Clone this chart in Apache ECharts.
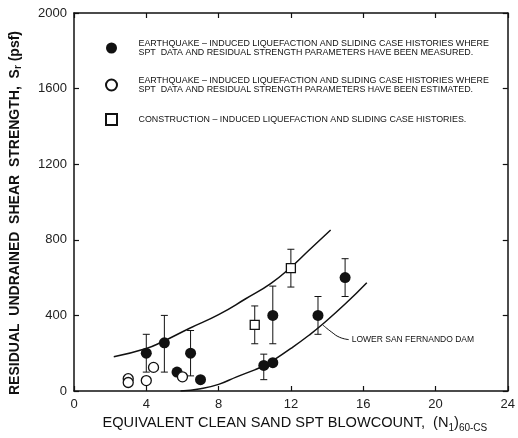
<!DOCTYPE html>
<html>
<head>
<meta charset="utf-8">
<script src="https://cdn.jsdelivr.net/npm/echarts@6/dist/echarts.min.js"></script>
<style>
  html, body { margin: 0; padding: 0; background: #fff; }
  #chart { width: 518px; height: 438px; }
</style>
</head>
<body>
<div id="chart"></div>
<script>
// tick values
var xTicks = [0, 4, 8, 12, 16, 20, 24];
var yTicks = [0, 400, 800, 1200, 1600, 2000];

// case histories: [blowcount, Sr]
var measured = [[4, 200], [5, 255], [5.7, 100], [6.45, 200], [7, 60], [10.5, 135], [11, 150], [11, 400], [13.5, 400], [15, 600]];
var estimated = [[3, 65], [3, 45], [4, 55], [4.4, 125], [6, 75]];
var construction = [[10, 350], [12, 650]];

// error bars: [blowcount, low, high]
var measuredRange = [[4, 100, 300], [5, 100, 400], [6.45, 80, 320], [10.5, 60, 195], [11, 250, 555], [13.5, 300, 500], [15, 500, 700]];
var constructionRange = [[10, 250, 450], [12, 550, 750]];

// bounding curves
var upperBound = [[2.2, 181], [4, 225], [4.9, 261], [6.4, 332], [8, 404], [9.5, 488], [10.9, 570], [12, 655], [13, 745], [14.2, 852]];
var lowerBound = [[5.9, 0], [7, 12], [8, 35], [9, 75], [10, 112], [10.6, 137], [11, 160], [12, 225], [13, 295], [13.7, 349], [15, 460], [16.2, 573]];
var leader = [[13.77, 349], [14.25, 312], [14.7, 284], [15.2, 272]];

var legendNames = [
  'EARTHQUAKE \u2013 INDUCED LIQUEFACTION AND SLIDING CASE HISTORIES WHERE\nSPT  DATA AND RESIDUAL STRENGTH PARAMETERS HAVE BEEN MEASURED.',
  'EARTHQUAKE \u2013 INDUCED LIQUEFACTION AND SLIDING CASE HISTORIES WHERE\nSPT  DATA AND RESIDUAL STRENGTH PARAMETERS HAVE BEEN ESTIMATED.',
  'CONSTRUCTION \u2013 INDUCED LIQUEFACTION AND SLIDING CASE HISTORIES.'
];

var ink = '#111';
var font = 'Liberation Sans';
var square = 'path://M0,0H10V10H0Z';

function errorBar(params, api) {
  var x = api.value(0);
  var lo = api.coord([x, api.value(1)]);
  var hi = api.coord([x, api.value(2)]);
  var cap = 3.5;
  var st = { stroke: ink, lineWidth: 1 };
  return {
    type: 'group',
    children: [
      { type: 'line', shape: { x1: lo[0], y1: lo[1], x2: hi[0], y2: hi[1] }, style: st },
      { type: 'line', shape: { x1: lo[0] - cap, y1: lo[1], x2: lo[0] + cap, y2: lo[1] }, style: st },
      { type: 'line', shape: { x1: hi[0] - cap, y1: hi[1], x2: hi[0] + cap, y2: hi[1] }, style: st }
    ]
  };
}

// one frame axis (fresh objects each time)
function frameAxis(pos, lo, hi, step, ticks, showLabel) {
  return {
    type: 'value', position: pos, min: lo, max: hi, interval: step,
    axisLine: { show: true, onZero: false, lineStyle: { color: ink, width: 1.5 } },
    axisTick: { show: true, inside: true, length: 5, lineStyle: { color: ink, width: 1.2 } },
    splitLine: { show: false },
    axisLabel: {
      show: showLabel, fontSize: 13, color: '#222', margin: 7,
      formatter: function (v) { return ticks.indexOf(v) >= 0 ? String(v) : ''; }
    }
  };
}

var xBottom = frameAxis('bottom', 0, 24, 4, xTicks, true);
xBottom.name = '{t|EQUIVALENT CLEAN SAND SPT BLOWCOUNT,  (N}{s|1}{t|)}{s|60-CS}';
xBottom.nameLocation = 'middle';
xBottom.nameGap = 22;
xBottom.nameTextStyle = {
  padding: [0, 0, 0, 8],
  rich: {
    t: { fontSize: 14.6, color: ink, fontFamily: font },
    s: { fontSize: 10, color: ink, fontFamily: font, padding: [9, 0, 0, 0] }
  }
};

var yLeft = frameAxis('left', 0, 2000, 400, yTicks, true);
yLeft.name = '{t|RESIDUAL  UNDRAINED  SHEAR  STRENGTH,  S}{s|r}{t| (psf)}';
yLeft.nameLocation = 'middle';
yLeft.nameGap = 51;
yLeft.nameTextStyle = {
  padding: [0, 22, 0, 0],
  rich: {
    t: { fontSize: 14, fontWeight: 'bold', color: ink, fontFamily: font },
    s: { fontSize: 10, fontWeight: 'bold', color: ink, fontFamily: font, padding: [6, 0, 0, 0] }
  }
};

var option = {
  backgroundColor: '#fff',
  animation: false,
  textStyle: { fontFamily: font },
  grid: { left: 73, right: 6, top: 13, bottom: 47 },
  legend: {
    orient: 'vertical',
    left: 100,
    top: 34,
    itemWidth: 44,
    itemHeight: 11,
    itemGap: 19,
    selectedMode: false,
    data: legendNames,
    textStyle: { fontSize: 8.9, lineHeight: 9, color: ink, fontFamily: font }
  },
  xAxis: [xBottom, frameAxis('top', 0, 24, 4, xTicks, false)],
  yAxis: [yLeft, frameAxis('right', 0, 2000, 400, yTicks, false)],
  series: [
    {
      type: 'line', data: upperBound, smooth: true, showSymbol: false, silent: true,
      lineStyle: { color: ink, width: 1.5 }
    },
    {
      type: 'line', data: lowerBound, smooth: true, showSymbol: false, silent: true,
      lineStyle: { color: ink, width: 1.5 }
    },
    {
      type: 'line', data: leader, smooth: true, showSymbol: false, silent: true,
      lineStyle: { color: ink, width: 1 },
      endLabel: {
        show: true, formatter: 'LOWER SAN FERNANDO DAM', distance: 3,
        fontSize: 8.5, color: ink, fontFamily: font
      }
    },
    { type: 'custom', data: measuredRange, renderItem: errorBar, z: 3 },
    { type: 'custom', data: constructionRange, renderItem: errorBar, z: 3 },
    {
      name: legendNames[0], type: 'scatter', data: measured, symbol: 'circle', symbolSize: 11, z: 5,
      itemStyle: { color: ink, opacity: 1 }
    },
    {
      name: legendNames[1], type: 'scatter', data: estimated, symbol: 'circle', symbolSize: 10, z: 5,
      itemStyle: { color: '#fff', borderColor: ink, borderWidth: 1.3, opacity: 1 }
    },
    {
      name: legendNames[2], type: 'scatter', data: construction, symbol: square, symbolKeepAspect: true,
      symbolSize: 9, z: 5,
      itemStyle: { color: '#fff', borderColor: ink, borderWidth: 1.3, opacity: 1 }
    }
  ]
};

var chart = echarts.init(document.getElementById('chart'));
chart.setOption(option);
</script>
</body>
</html>
